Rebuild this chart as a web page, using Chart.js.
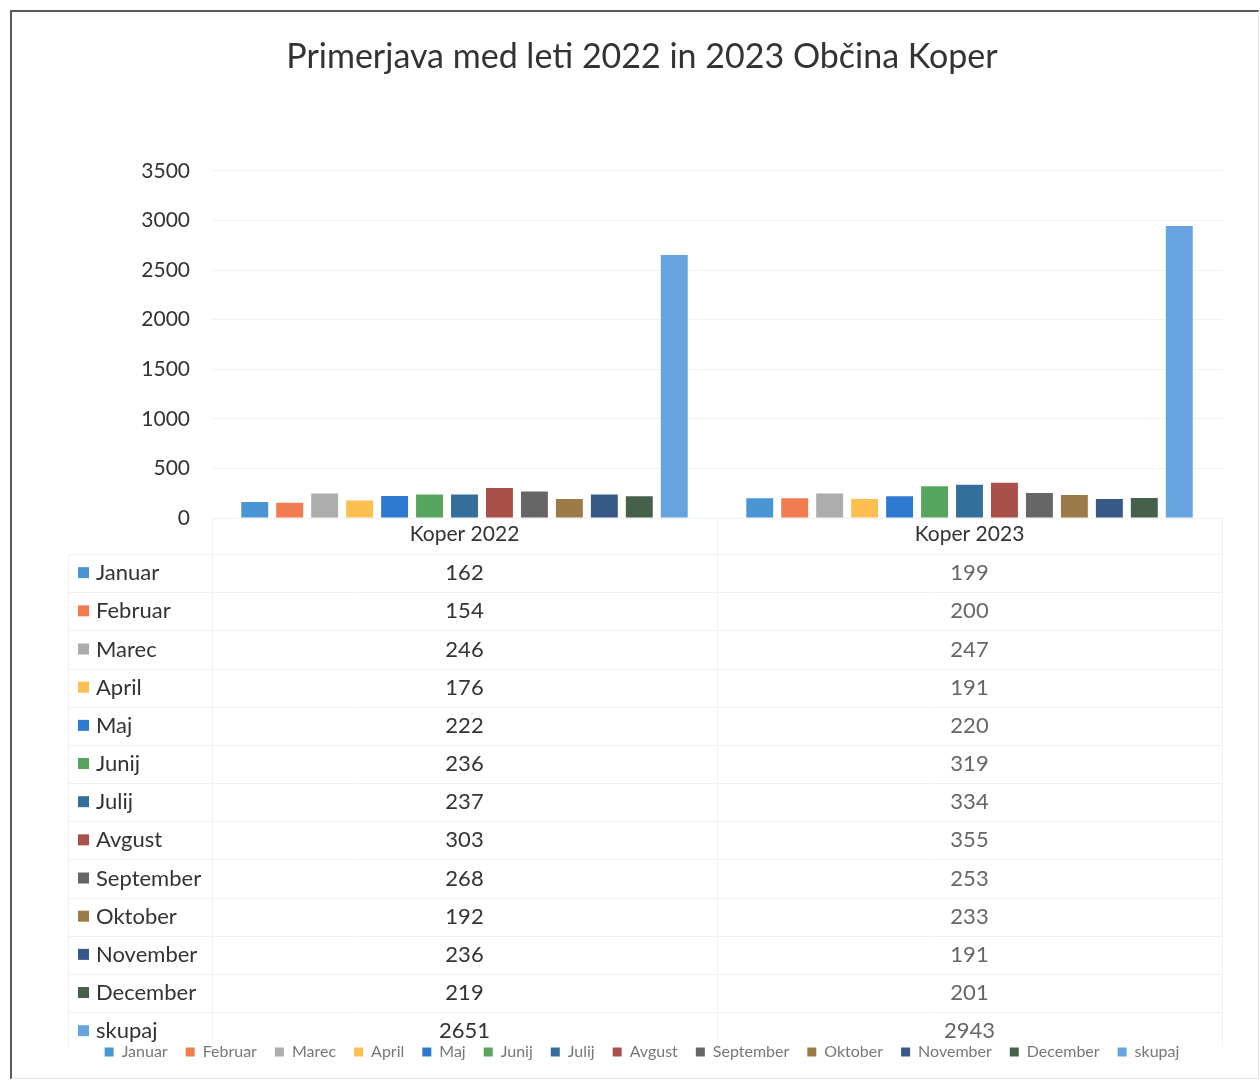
<!DOCTYPE html>
<html>
<head>
<meta charset="utf-8">
<script src="https://cdn.jsdelivr.net/npm/chart.js@4.4.1/dist/chart.umd.min.js"></script>
<style>
  html, body { margin: 0; padding: 0; background: #fff; }
  #frame {
    position: absolute; left: 10px; top: 10px; width: 1246px; height: 1066px;
    border-left: 2px solid #5a5a5a; border-top: 2px solid #5a5a5a;
    border-right: 1px solid #e4e4e4; border-bottom: 1px solid #e4e4e4;
  }
  canvas { display: block; }
</style>
</head>
<body>
<div id="frame"><canvas id="koperChart" width="1246" height="1066"></canvas></div>
<script>
const categories = ['Koper 2022', 'Koper 2023'];
const months = ['Januar', 'Februar', 'Marec', 'April', 'Maj', 'Junij', 'Julij', 'Avgust',
  'September', 'Oktober', 'November', 'December', 'skupaj'];
const values2022 = [162, 154, 246, 176, 222, 236, 237, 303, 268, 192, 236, 219, 2651];
const values2023 = [199, 200, 247, 191, 220, 319, 334, 355, 253, 233, 191, 201, 2943];
const monthColors = ['#4a96d4', '#f07c4f', '#adadad', '#fdbf4f', '#2f7ad1', '#58a55f', '#346f9c',
  '#a9504a', '#666666', '#9b7c48', '#385987', '#45604b', '#66a3e0'];

const FONT = 'Lato, "Open Sans", sans-serif';
const ROW_H = 38.17;

// data table drawn under the x axis, like the Excel chart
const dataTable = {
  id: 'dataTable',
  afterDraw(chart) {
    const { ctx, chartArea } = chart;
    const x = chart.scales.x;
    const headTop = chartArea.bottom;
    const headCenter = headTop + 17;
    const firstTop = headCenter + ROW_H / 2;
    const tableBottom = headCenter + (months.length + 0.5) * ROW_H - 4;
    const left = 56;
    const mid = (x.getPixelForValue(0) + x.getPixelForValue(1)) / 2;

    ctx.save();
    ctx.strokeStyle = '#f1f1f1';
    ctx.lineWidth = 1;
    ctx.beginPath();
    ctx.moveTo(chartArea.left, headTop + 0.5);
    ctx.lineTo(chartArea.right, headTop + 0.5);
    for (let r = 0; r < months.length; r++) {
      const y = Math.round(firstTop + r * ROW_H) + 0.5;
      ctx.moveTo(left, y);
      ctx.lineTo(chartArea.right, y);
    }
    [chartArea.left, mid, chartArea.right].forEach(px => {
      ctx.moveTo(Math.round(px) + 0.5, headTop);
      ctx.lineTo(Math.round(px) + 0.5, tableBottom);
    });
    ctx.moveTo(left + 0.5, firstTop);
    ctx.lineTo(left + 0.5, tableBottom);
    ctx.stroke();

    ctx.font = '22px ' + FONT;
    ctx.textBaseline = 'middle';
    months.forEach((m, i) => {
      const yc = headCenter + (i + 1) * ROW_H;
      ctx.fillStyle = monthColors[i];
      ctx.fillRect(66, yc - 6, 11, 11);
      ctx.fillStyle = '#333';
      ctx.textAlign = 'left';
      ctx.fillText(m, 84, yc);
      ctx.textAlign = 'center';
      ctx.fillText(String(values2022[i]), x.getPixelForValue(0), yc);
      ctx.fillStyle = '#666';
      ctx.fillText(String(values2023[i]), x.getPixelForValue(1), yc);
    });
    ctx.restore();
  }
};

function createChart() {
  const ctx = document.getElementById('koperChart').getContext('2d');
  return new Chart(ctx, {
    type: 'bar',
    data: {
      labels: categories,
      datasets: months.map((m, i) => ({
        label: m,
        data: [values2022[i], values2023[i]],
        backgroundColor: monthColors[i],
        borderWidth: 0,
        categoryPercentage: 0.9,
        barPercentage: 0.77
      }))
    },
    options: {
      responsive: false,
      animation: false,
      devicePixelRatio: 1,
      layout: { padding: { left: 50, right: 36, top: 0, bottom: 8 } },
      plugins: {
        title: {
          display: true,
          text: 'Primerjava med leti 2022 in 2023 Občina Koper',
          color: '#333',
          font: { family: FONT, size: 34, weight: 'normal' },
          padding: { top: 25, bottom: 93 }
        },
        legend: {
          position: 'bottom',
          labels: {
            color: '#777',
            boxWidth: 9,
            boxHeight: 9,
            padding: 18,
            font: { family: FONT, size: 16 }
          }
        },
        tooltip: { enabled: false }
      },
      scales: {
        x: {
          grid: { display: false, drawTicks: false },
          border: { display: false },
          ticks: { color: '#333', padding: 4, font: { family: FONT, size: 21 } },
          afterFit: scale => { scale.height = 508; }
        },
        y: {
          min: 0,
          max: 3500,
          grid: { color: '#f2f2f2', drawTicks: false },
          border: { display: false },
          ticks: {
            stepSize: 500,
            color: '#333',
            padding: 22,
            font: { family: FONT, size: 21 },
            callback: v => String(v)
          },
          afterFit: scale => { scale.width = 150; }
        }
      }
    },
    plugins: [dataTable]
  });
}

createChart();
</script>
</body>
</html>
